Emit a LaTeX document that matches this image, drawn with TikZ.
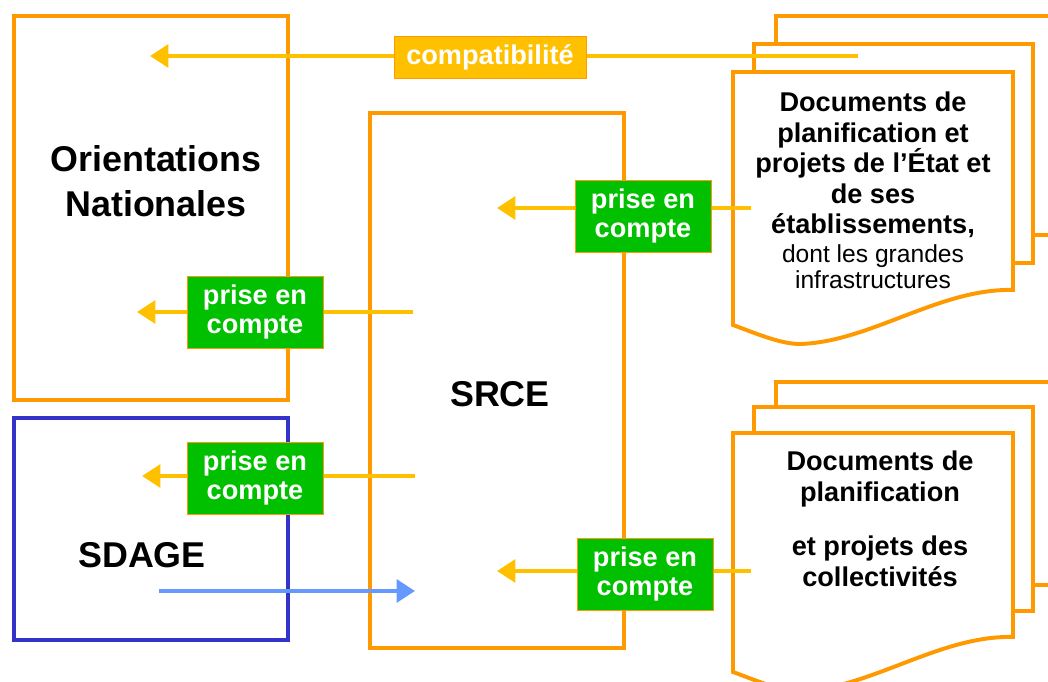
\documentclass[tikz,border=0pt]{standalone}
\usepackage{fontspec}
\setmainfont{Liberation Sans}
\usetikzlibrary{arrows.meta}
\definecolor{srceorange}{HTML}{FF9900}
\definecolor{srceyellow}{HTML}{FFC000}
\definecolor{srcegreen}{HTML}{00C000}
\definecolor{sdageblue}{HTML}{3333CC}
\definecolor{sdagearrow}{HTML}{6699FF}
\begin{document}
\begin{tikzpicture}[x=0.025cm,y=-0.025cm,
        box/.style={line width=2.8pt},
        page/.style={draw=srceorange,fill=white,line width=2.8pt},
        link/.style={draw=srceyellow,line width=3pt,-{Triangle[length=13pt,width=16pt]}},
        bigtext/.style={font=\bfseries\fontsize{25.5}{32}\selectfont,align=center},
        doctext/.style={font=\bfseries\fontsize{19.3}{21.7}\selectfont,align=center},
        docsub/.style={font=\fontsize{17.5}{18.5}\selectfont,align=center},
        tag/.style={fill=srcegreen,draw=srceorange,line width=0.6pt,text=white,
            font=\bfseries\fontsize{19.3}{20.6}\selectfont,align=center,
            minimum width=96.7pt,minimum height=51.2pt,inner sep=0pt},
        comptag/.style={tag,fill=srceyellow,minimum width=136.5pt,minimum height=29.9pt}]
            \clip (0,0) rectangle (1048,682);

            \draw[box,srceorange] (14,16) rectangle (288,400);
            \draw[box,sdageblue] (14,418) rectangle (288,640);
            \draw[box,srceorange] (370,113) rectangle (624,648);
            \node[bigtext] (orient) at (156,181) {Orientations\\Nationales};
            \node[bigtext] (sdage) at (142,555) {SDAGE};
            \node[bigtext] (srce) at (500,394) {SRCE};

            \filldraw[page] (776,16) rectangle (1070,235);
            \filldraw[page] (754,44) rectangle (1033,263);
            \filldraw[page] (733,72) -- (1013,72) -- (1013,290)
                .. controls (940,288) and (870,342) .. (800,344)
                .. controls (780,344) and (755,333) .. (733,325) -- cycle;
            \node[doctext] (stateDocs) at (873,165) {Documents de\\planification et\\projets de l’État et\\de ses\\établissements,};
            \node[docsub] (stateInfra) at (873,267) {dont les grandes\\infrastructures};

            \filldraw[page] (776,382) rectangle (1070,585);
            \filldraw[page] (754,407) rectangle (1033,611);
            \filldraw[page] (733,433) -- (1013,433) -- (1013,637)
                .. controls (940,635) and (870,689) .. (800,691)
                .. controls (780,691) and (755,680) .. (733,672) -- cycle;
            \node[doctext] (localDocs) at (880,519) {Documents de\\planification\\[17pt]et projets des\\collectivités};

            \coordinate (compStart) at (858,56);
            \coordinate (compEnd) at (150,56);
            \coordinate (stateStart) at (751,208);
            \coordinate (stateEnd) at (497,208);
            \coordinate (orientStart) at (413,312);
            \coordinate (orientEnd) at (137,312);
            \coordinate (sdageStart) at (415,476);
            \coordinate (sdageEnd) at (142,476);
            \coordinate (localStart) at (751,571);
            \coordinate (localEnd) at (497,571);
            \coordinate (sdageOut) at (159,591);
            \coordinate (srceIn) at (415,591);

            \draw[link] (compStart) -- (compEnd);
            \draw[link] (stateStart) -- (stateEnd);
            \draw[link] (orientStart) -- (orientEnd);
            \draw[link] (sdageStart) -- (sdageEnd);
            \draw[link] (localStart) -- (localEnd);
            \draw[link,draw=sdagearrow] (sdageOut) -- (srceIn);

            \node[comptag] (compat) at (490,57) {compatibilité};
            \node[tag] (tagState) at (643,216) {prise en\\compte};
            \node[tag] (tagOrient) at (255,312) {prise en\\compte};
            \node[tag] (tagSdage) at (255,478) {prise en\\compte};
            \node[tag] (tagLocal) at (645,574) {prise en\\compte};
        \end{tikzpicture}
\end{document}
